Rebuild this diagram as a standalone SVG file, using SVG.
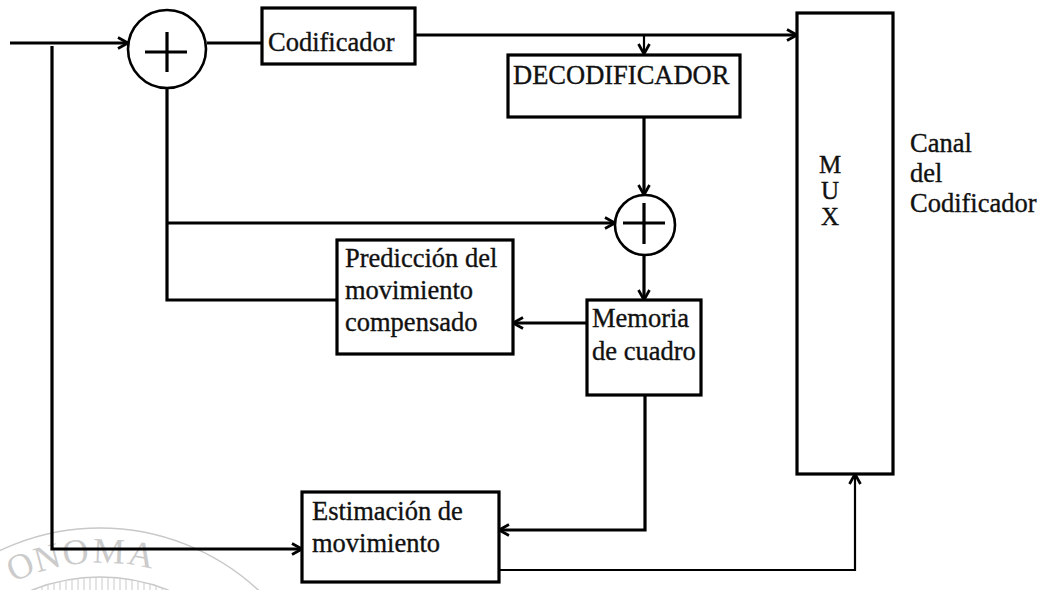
<svg xmlns="http://www.w3.org/2000/svg" width="1045" height="590" viewBox="0 0 1045 590">
<style>
.box{fill:#fff;stroke:#000;stroke-width:3.2}
.sum{fill:#fff;stroke:#000;stroke-width:2.6}
.plus{stroke:#000;stroke-width:3.2;fill:none}
.ln{fill:none;stroke:#000;stroke-width:3.2;stroke-linejoin:miter}
.thin{fill:none;stroke:#000;stroke-width:2.2}
.t{font-family:"Liberation Serif","Times New Roman",serif;font-size:26.5px;fill:#111;stroke:#111;stroke-width:0.35}
.t.mx{font-size:25px}
.wm{fill:none;stroke:#c8c8c8;stroke-width:1.5}
.wmt{font-family:"Liberation Serif","Times New Roman",serif;font-size:36px;fill:#cbcbcb;text-anchor:middle}
</style>
<defs>
<marker id="ah" markerWidth="14" markerHeight="14" refX="12" refY="7" orient="auto" markerUnits="userSpaceOnUse">
<path d="M2,1.5 L12,7 L2,12.5" fill="none" stroke="#000" stroke-width="2.7"/>
</marker>
<clipPath id="wmclip"><circle cx="100" cy="761" r="184"/></clipPath>
</defs>
<rect width="1045" height="590" fill="#fff"/>

<g id="watermark">
<circle class="wm" cx="100" cy="761" r="233"/>
<circle class="wm" cx="100" cy="761" r="184"/>
<text class="wmt" transform="translate(25,577) rotate(-23.3)">O</text>
<text class="wmt" transform="translate(50,569) rotate(-15.1)">N</text>
<text class="wmt" transform="translate(77,564) rotate(-7)">O</text>
<text class="wmt" transform="translate(108.6,563) rotate(2.2)">M</text>
<text class="wmt" transform="translate(139,566) rotate(11.3)">A</text>
<g clip-path="url(#wmclip)" stroke="#d2d2d2" stroke-width="1.2">
<path d="M12,560V590M18,560V590M24,560V590M30,560V590M36,560V590M42,560V590M48,560V590M54,560V590M60,560V590M66,560V590M72,560V590M78,560V590M84,560V590M90,560V590M96,560V590M102,560V590M108,560V590M114,560V590M120,560V590M126,560V590M132,560V590M138,560V590M144,560V590M150,560V590M156,560V590M162,560V590M168,560V590M174,560V590M180,560V590M186,560V590"/>
</g>
</g>

<g id="connectors">
<path class="ln" d="M10,43 H128" marker-end="url(#ah)"/>
<path class="ln" d="M52,46 V549 H302" marker-end="url(#ah)"/>
<path class="ln" d="M207,43 H262"/>
<path class="ln" d="M415,35 H797" marker-end="url(#ah)"/>
<path class="thin" d="M644,35 V54" marker-end="url(#ah)"/>
<path class="ln" d="M644,117 V195" marker-end="url(#ah)"/>
<path class="ln" d="M167,88 V300 H337"/>
<path class="ln" d="M167,223 H615" marker-end="url(#ah)"/>
<path class="ln" d="M644,255 V300" marker-end="url(#ah)"/>
<path class="ln" d="M587,323 H513" marker-end="url(#ah)"/>
<path class="ln" d="M645,395 V530 H499" marker-end="url(#ah)"/>
<path class="thin" d="M499,570 H855 V474" marker-end="url(#ah)"/>
</g>

<g id="sum1">
<circle class="sum" cx="167" cy="49" r="39"/>
<path class="plus" d="M145,52 H187 M167,32 V72"/>
</g>
<g id="codificador">
<rect class="box" x="262" y="8" width="153" height="56"/>
<text class="t" x="268" y="51">Codificador</text>
</g>
<g id="decodificador">
<rect class="box" x="508" y="55" width="232" height="62"/>
<text class="t" x="513" y="84">DECODIFICADOR</text>
</g>
<g id="sum2">
<circle class="sum" cx="645" cy="225" r="30"/>
<path class="plus" d="M623,223 H665 M644,203 V244"/>
</g>
<g id="prediccion">
<rect class="box" x="337" y="240" width="176" height="114"/>
<text class="t" x="345" y="267">Predicción del</text>
<text class="t" x="345" y="299">movimiento</text>
<text class="t" x="345" y="331">compensado</text>
</g>
<g id="memoria">
<rect class="box" x="587" y="300" width="114" height="95"/>
<text class="t" x="592" y="327">Memoria</text>
<text class="t" x="592" y="360">de cuadro</text>
</g>
<g id="estimacion">
<rect class="box" x="302" y="492" width="197" height="90"/>
<text class="t" x="312" y="520">Estimación de</text>
<text class="t" x="312" y="552">movimiento</text>
</g>
<g id="mux">
<rect class="box" x="797" y="13" width="96" height="461" stroke-width="3.5"/>
<text class="t mx" x="830" y="173" text-anchor="middle">M</text>
<text class="t mx" x="830" y="199" text-anchor="middle">U</text>
<text class="t mx" x="830" y="225" text-anchor="middle">X</text>
</g>
<g id="canal">
<text class="t" x="910" y="152">Canal</text>
<text class="t" x="910" y="182">del</text>
<text class="t" x="910" y="212">Codificador</text>
</g>
</svg>
